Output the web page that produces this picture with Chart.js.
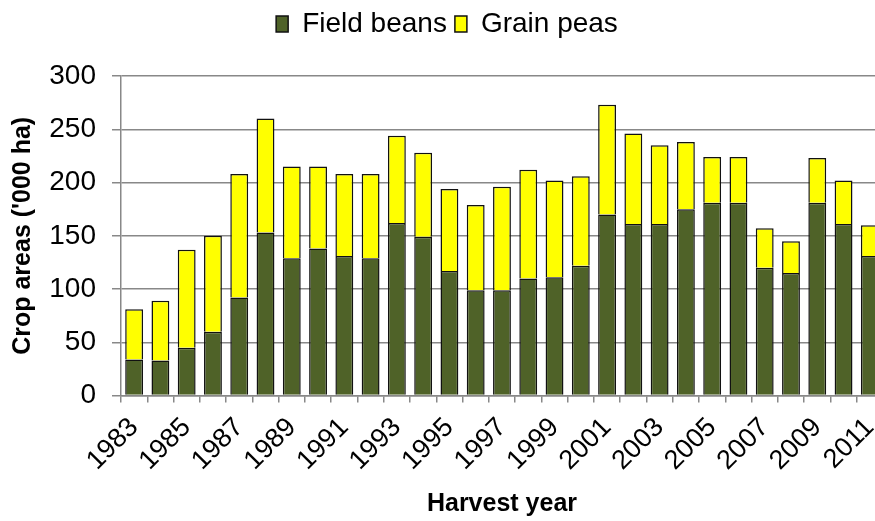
<!doctype html>
<html lang="en">
  <head>
    <meta charset="utf-8">
    <title>Field beans and grain peas</title>
    <style>
      * {
        margin: 0;
        padding: 0;
      }
      body {
        background: white;
        overflow: hidden;
      }
      .chartBox {
        width: 902px;
        height: 521px;
      }
    </style>
  </head>
  <body>
    <div class="chartBox">
      <canvas id="myChart"></canvas>
    </div>

    <script src="https://cdn.jsdelivr.net/npm/chart.js"></script>
    <script>
    // setup
    const years = ['1983','1984','1985','1986','1987','1988','1989','1990','1991','1992',
      '1993','1994','1995','1996','1997','1998','1999','2000','2001','2002',
      '2003','2004','2005','2006','2007','2008','2009','2010','2011'];
    const fieldBeans = [34, 33, 45, 60, 92, 153, 129, 138, 131, 129,
      162, 149, 117, 99, 99, 110, 111, 122, 170, 161,
      161, 175, 181, 181, 120, 115, 181, 161, 131];
    const grainPeas = [47, 56, 92, 90, 116, 107, 86, 77, 77, 79,
      82, 79, 77, 80, 97, 102, 91, 84, 103, 85,
      74, 63, 43, 43, 37, 30, 42, 41, 29];
    const yTicks = [0, 50, 100, 150, 200, 250, 300];

    const fontFamily = 'Liberation Sans';

    // extra room under the legend
    const legendGap = {
      id: 'legendGap',
      beforeInit(chart) {
        const fit = chart.legend.fit;
        chart.legend.fit = function () {
          fit.bind(chart.legend)();
          this.height += 28;
        };
      }
    };

    const data = {
      labels: years,
      datasets: [{
        label: 'Field beans',
        data: fieldBeans,
        backgroundColor: '#4F6228',
        borderColor: '#111',
        borderWidth: 1.5,
        barPercentage: 0.68,
        categoryPercentage: 1
      }, {
        label: 'Grain peas',
        data: grainPeas,
        backgroundColor: '#FFFF00',
        borderColor: '#111',
        borderWidth: 1.5,
        barPercentage: 0.68,
        categoryPercentage: 1
      }]
    };

    // config
    const config = {
      type: 'bar',
      data,
      plugins: [legendGap],
      options: {
        responsive: true,
        maintainAspectRatio: false,
        animation: false,
        layout: { padding: { left: 8, right: 16, top: 2, bottom: 2 } },
        plugins: {
          tooltip: { enabled: false },
          legend: {
            position: 'top',
            labels: {
              color: '#000',
              font: { family: fontFamily, size: 28 },
              boxWidth: 12,
              boxHeight: 16,
              padding: 8
            }
          }
        },
        scales: {
          x: {
            stacked: true,
            grid: {
              offset: true,
              drawOnChartArea: false,
              color: '#888',
              lineWidth: 1.5,
              tickLength: 7
            },
            border: { color: '#888', width: 1.5 },
            ticks: {
              autoSkip: false,
              minRotation: 45,
              maxRotation: 45,
              color: '#000',
              font: { family: fontFamily, size: 27 },
              padding: 9,
              callback: (v, i) => i % 2 === 0 ? years[i] : ''
            },
            title: {
              display: true,
              text: 'Harvest year',
              color: '#000',
              font: { family: fontFamily, size: 25, weight: 'bold' },
              padding: { top: 3, bottom: 0 }
            }
          },
          y: {
            stacked: true,
            min: 0,
            max: 300,
            afterBuildTicks: axis => { axis.ticks = yTicks.map(v => ({ value: v })); },
            afterFit: axis => { axis.width = 113; },
            grid: {
              color: '#888',
              lineWidth: 1.5,
              tickLength: 9
            },
            border: { color: '#888', width: 1.5 },
            ticks: {
              color: '#000',
              font: { family: fontFamily, size: 28 },
              padding: 16
            },
            title: {
              display: true,
              text: "Crop areas ('000 ha)",
              color: '#000',
              font: { family: fontFamily, size: 25, weight: 'bold' },
              padding: { top: 0, bottom: 10 }
            }
          }
        }
      }
    };

    // render
    const myChart = new Chart(document.getElementById('myChart'), config);
    </script>
  </body>
</html>
